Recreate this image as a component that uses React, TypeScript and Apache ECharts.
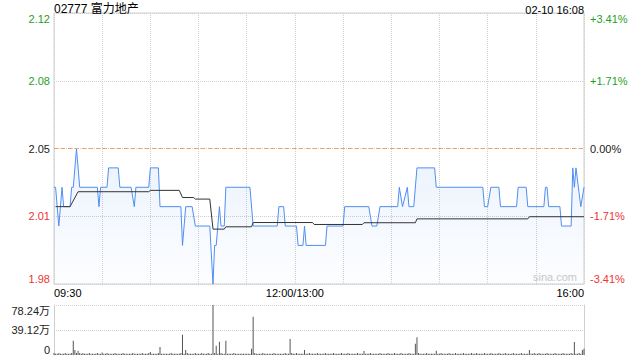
import React, { useEffect, useRef } from 'react';
import * as echarts from 'echarts';

const stockTitle = '02777 富力地产';
const stampText = '02-10 16:08';
const watermarkText = 'sina.com';
const prevClose = 2.05;
const pctRange = 3.41;
const sessionMinutes = 330;

const timeTickMinutes = [0, 150, 330];
const timeTickLabels = ['09:30', '12:00/13:00', '16:00'];
const priceTickLabels = ['1.98', '2.01', '2.05', '2.08', '2.12'];
const pctTickLabels = ['-3.41%', '-1.71%', '0.00%', '+1.71%', '+3.41%'];
const volumeTickLabels = ['0', '39.12万', '78.24万'];
const volumeMax = 78.24;

// price line: minute index (from 09:30, lunch removed) and price at turning points
const priceMinutes = [0, 1, 3, 5, 6, 10, 11, 12, 14, 16, 27, 28, 29, 33, 34, 40, 41, 48, 50, 51, 59, 60, 65, 66, 79, 80, 82, 86, 88, 97, 99, 100, 101, 103, 104, 106, 107, 122, 124, 139, 140, 143, 144, 151, 152, 155, 156, 157, 169, 170, 180, 181, 196, 198, 201, 203, 214, 215, 217, 220, 221, 224, 226, 237, 238, 267, 268, 270, 272, 277, 278, 288, 289, 294, 295, 305, 306, 307, 308, 315, 316, 322, 323, 324, 325, 328, 330];
const priceValues = [2.03, 2.03, 2.01, 2.03, 2.02, 2.02, 2.03, 2.03, 2.05, 2.03, 2.03, 2.02, 2.03, 2.03, 2.04, 2.04, 2.03, 2.03, 2.02, 2.03, 2.03, 2.04, 2.04, 2.02, 2.02, 2.00, 2.02, 2.02, 2.01, 2.01, 1.98, 2.00, 2.00, 2.02, 2.01, 2.01, 2.03, 2.03, 2.01, 2.01, 2.02, 2.02, 2.01, 2.01, 2.00, 2.00, 2.01, 2.00, 2.00, 2.01, 2.01, 2.02, 2.02, 2.01, 2.01, 2.02, 2.02, 2.03, 2.02, 2.03, 2.02, 2.02, 2.04, 2.04, 2.03, 2.03, 2.02, 2.02, 2.03, 2.03, 2.02, 2.02, 2.03, 2.03, 2.02, 2.02, 2.03, 2.03, 2.02, 2.02, 2.01, 2.01, 2.04, 2.03, 2.04, 2.02, 2.03];

// average price line
const avgMinutes = [1, 10, 15, 59, 60, 78, 80, 87, 88, 97, 99, 106, 107, 123, 124, 161, 162, 192, 193, 225, 226, 295, 296, 330];
const avgValues = [2.020, 2.020, 2.0277, 2.0277, 2.0284, 2.0284, 2.0247, 2.0247, 2.0239, 2.0239, 2.0084, 2.0084, 2.0096, 2.0096, 2.0118, 2.0118, 2.0108, 2.0108, 2.0117, 2.0117, 2.0137, 2.0137, 2.0148, 2.0148];

// volume per minute (万股), minute 0..330
const volumeByMinute = [
  3, 2, 2, 3, 2, 2, 2, 3, 2, 2, 2, 3, 22.4, 7.8, 3, 6.8, 3, 2, 3, 2, 2, 2, 3, 2, 2, 2, 2, 3, 2, 2,
  4, 2, 2, 3, 2, 2, 2, 2, 3, 2, 2, 2, 2, 3, 2, 2, 2, 2, 2, 3, 2, 2, 2, 2, 2, 3, 2, 2, 2, 3,
  4.7, 2, 2, 2, 2, 3, 12.5, 2, 2, 2, 2, 2, 2, 3, 2, 2, 2, 2, 2, 3, 31.8, 2, 7.8, 3, 2, 2, 2, 2, 3, 2,
  2, 2, 3, 2, 2, 2, 3, 2, 2, 78.24, 3, 14.6, 2, 20.9, 3, 2, 2, 22.4, 2, 2, 2, 2, 3, 2, 2, 2, 2, 2, 2, 2,
  2, 2, 2, 9.9, 60, 3, 2, 2, 2, 2, 3, 2, 2, 2, 2, 2, 2, 3, 2, 2, 2, 2, 2, 2, 3, 2, 2, 25, 3, 2,
  2, 3, 2, 2, 2, 2, 7.8, 2, 2, 3, 2, 2, 2, 2, 3, 2, 2, 2, 2, 3, 2, 2, 2, 2, 3, 2, 2, 2, 2, 3,
  2, 2, 2, 3, 2, 2, 2, 2, 2, 3, 2, 2, 2, 6.3, 2, 2, 2, 3, 2, 2, 2, 2, 2, 3, 2, 2, 2, 2, 3, 2,
  2, 2, 3, 2, 2, 2, 3, 2, 2, 2, 2, 3, 2, 2, 2, 17.7, 27.7, 3, 2, 2, 2, 2, 3, 2, 2, 2, 2, 2, 6.8, 2,
  2, 3, 2, 2, 2, 2, 3, 2, 2, 2, 3, 2, 2, 2, 2, 3, 2, 2, 2, 2, 3, 2, 2, 3, 2, 2, 2, 2, 3, 2,
  2, 2, 3, 2, 2, 2, 2, 3, 2, 2, 2, 3, 2, 2, 2, 2, 3, 2, 2, 2, 2, 3, 2, 2, 2, 2, 7.8, 2, 2, 3,
  2, 2, 3, 2, 2, 2, 2, 3, 2, 2, 2, 2, 3, 2, 2, 2, 2, 3, 2, 2, 2, 2, 3, 2, 20.3, 2, 2, 3, 2, 7.8,
  9.9,
];

const FONT = '"Liberation Sans", Arial, "Noto Sans CJK SC", sans-serif';
const GREEN = '#1f9f1f';
const RED = '#f03333';
const DARK = '#222';
const GRID_LINE = '#cfcfcf';
const levelColors = [RED, RED, DARK, GREEN, GREEN];

export default function App() {
  const ref = useRef<HTMLDivElement>(null);

  useEffect(() => {
    document.body.style.margin = '0';
    if (!ref.current) return;
    const chart = echarts.init(ref.current, undefined, { renderer: 'svg' });

    const pctStep = pctRange / 2;
    const priceMin = prevClose * (1 - pctRange / 100);
    const priceMax = prevClose * (1 + pctRange / 100);
    const pctIndex = (v: any) => Math.round((Number(v) + pctRange) / pctStep);
    const volIndex = (v: any) => Math.round(Number(v) / (volumeMax / 2));

    const priceData = priceMinutes.map((m, i) => [m, priceValues[i]]);
    const avgData = avgMinutes.map((m, i) => [m, avgValues[i]]);
    const volumeData = volumeByMinute.map((v, i) => [i, v]);

    const option: any = {
      animation: false,
      textStyle: { fontFamily: FONT },
      title: [
        {
          text: stockTitle,
          left: 54,
          top: 3,
          padding: 0,
          textStyle: { fontSize: 12, fontWeight: 'normal', color: '#000', fontFamily: FONT },
        },
        {
          text: stampText,
          right: 56,
          top: 4,
          padding: 0,
          textStyle: { fontSize: 11, fontWeight: 'normal', color: '#000', fontFamily: FONT },
        },
      ],
      graphic: [
        {
          type: 'text',
          left: 533,
          top: 271,
          silent: true,
          style: { text: watermarkText, fill: '#c8c8c8', font: '11px ' + FONT },
        },
      ],
      grid: [
        { left: 54, right: 56, top: 13, height: 271, show: true, borderColor: GRID_LINE, borderWidth: 1, backgroundColor: 'transparent' },
        { left: 54, right: 56, top: 305, height: 50 },
      ],
      xAxis: [
        {
          type: 'value',
          gridIndex: 0,
          min: 0,
          max: sessionMinutes,
          interval: 30,
          axisLine: { show: false },
          axisTick: { show: false },
          splitLine: { show: true, lineStyle: { color: GRID_LINE, type: 'dotted', width: 1 } },
          axisLabel: {
            show: true,
            margin: 3,
            fontSize: 11,
            color: '#000',
            fontFamily: FONT,
            showMinLabel: true,
            showMaxLabel: true,
            alignMinLabel: 'left',
            alignMaxLabel: 'right',
            formatter: (v: any) => {
              const k = timeTickMinutes.indexOf(Number(v));
              return k >= 0 ? timeTickLabels[k] : '';
            },
          },
        },
        {
          type: 'value',
          gridIndex: 1,
          min: 0,
          max: sessionMinutes,
          show: false,
        },
      ],
      yAxis: [
        { type: 'value', gridIndex: 0, min: priceMin, max: priceMax, show: false },
        {
          type: 'value',
          gridIndex: 0,
          position: 'right',
          min: -pctRange,
          max: pctRange,
          interval: pctStep,
          axisLine: { show: false },
          axisTick: { show: false },
          splitLine: { show: true, lineStyle: { color: GRID_LINE, type: 'dotted', width: 1 } },
          axisLabel: {
            margin: 6,
            fontSize: 11,
            fontFamily: FONT,
            formatter: (v: any) => pctTickLabels[pctIndex(v)],
            color: (v: any) => levelColors[pctIndex(v)],
            verticalAlignMinLabel: 'bottom',
            verticalAlignMaxLabel: 'top',
          },
        },
        {
          type: 'value',
          gridIndex: 0,
          position: 'left',
          min: -pctRange,
          max: pctRange,
          interval: pctStep,
          axisLine: { show: false },
          axisTick: { show: false },
          splitLine: { show: false },
          axisLabel: {
            margin: 4,
            fontSize: 11,
            fontFamily: FONT,
            formatter: (v: any) => priceTickLabels[pctIndex(v)],
            color: (v: any) => levelColors[pctIndex(v)],
            verticalAlignMinLabel: 'bottom',
            verticalAlignMaxLabel: 'top',
          },
        },
        {
          type: 'value',
          gridIndex: 1,
          position: 'left',
          min: 0,
          max: volumeMax,
          interval: volumeMax / 2,
          axisLine: { show: true, lineStyle: { color: GRID_LINE } },
          axisTick: { show: false },
          splitLine: { show: true, lineStyle: { color: ['rgba(0,0,0,0)', GRID_LINE, GRID_LINE], type: 'dotted', width: 1 } },
          axisLabel: {
            margin: 4,
            fontSize: 11,
            color: DARK,
            fontFamily: FONT,
            formatter: (v: any) => volumeTickLabels[volIndex(v)],
            verticalAlignMinLabel: 'bottom',
            verticalAlignMaxLabel: 'top',
          },
        },
        {
          type: 'value',
          gridIndex: 1,
          position: 'right',
          min: 0,
          max: volumeMax,
          interval: volumeMax / 2,
          axisLine: { show: true, lineStyle: { color: GRID_LINE } },
          axisTick: { show: false },
          axisLabel: { show: false },
          splitLine: { show: false },
        },
      ],
      series: [
        {
          name: 'price',
          type: 'line',
          xAxisIndex: 0,
          yAxisIndex: 0,
          data: priceData,
          showSymbol: false,
          symbol: 'none',
          lineStyle: { color: '#4f8ff0', width: 1 },
          areaStyle: {
            color: new echarts.graphic.LinearGradient(0, 0, 0, 1, [
              { offset: 0, color: 'rgba(79,143,240,0.16)' },
              { offset: 1, color: 'rgba(79,143,240,0.02)' },
            ]),
          },
          markLine: {
            silent: true,
            symbol: ['none', 'none'],
            label: { show: false },
            lineStyle: { color: '#f3a060', type: [4, 3], width: 1 },
            data: [{ yAxis: prevClose }],
          },
          z: 3,
        },
        {
          name: 'avg',
          type: 'line',
          xAxisIndex: 0,
          yAxisIndex: 0,
          data: avgData,
          showSymbol: false,
          symbol: 'none',
          lineStyle: { color: '#333', width: 1 },
          z: 4,
        },
        {
          name: 'volume',
          type: 'bar',
          xAxisIndex: 1,
          yAxisIndex: 3,
          data: volumeData,
          barWidth: 1,
          itemStyle: { color: '#555' },
        },
      ],
    };

    chart.setOption(option);
    return () => chart.dispose();
  }, []);

  return <div ref={ref} style={{ width: 640, height: 360 }} />;
}
